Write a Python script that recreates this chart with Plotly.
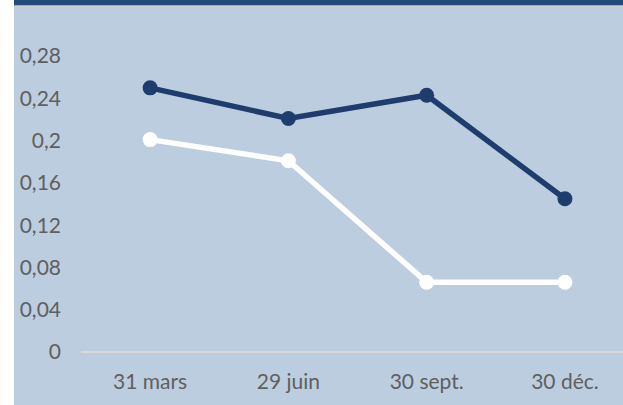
import plotly.graph_objects as go

categories = ["31 mars", "29 juin", "30 sept.", "30 déc."]
serie_foncee = [0.25, 0.221, 0.243, 0.145]
serie_blanche = [0.201, 0.181, 0.066, 0.066]
y_ticks = [0, 0.04, 0.08, 0.12, 0.16, 0.2, 0.24, 0.28]
y_tick_labels = ["0", "0,04", "0,08", "0,12", "0,16", "0,2", "0,24", "0,28"]

W, H = 623, 405
L, R_px, T, B = 81, 623, 34.75, 352
pw, ph = R_px - L, B - T

def px(x):
    return (x - L) / pw

def py(y):
    return (B - y) / ph

fig = go.Figure()
fig.add_trace(go.Scatter(x=categories, y=serie_blanche, mode="lines+markers",
                         line=dict(color="#FFFFFF", width=5.5),
                         marker=dict(color="#FFFFFF", size=15), showlegend=False))
fig.add_trace(go.Scatter(x=categories, y=serie_foncee, mode="lines+markers",
                         line=dict(color="#1E3C6E", width=5.5),
                         marker=dict(color="#1E3C6E", size=15), showlegend=False))

shapes = [
    dict(type="rect", xref="paper", yref="paper", x0=px(-5), x1=px(14), y0=py(410), y1=py(-5),
         fillcolor="#FFFFFF", line=dict(width=0), layer="below"),
    dict(type="rect", xref="paper", yref="paper", x0=px(14), x1=px(630), y0=py(7), y1=py(4),
         fillcolor="#C9CDD2", line=dict(width=0), layer="below"),
    dict(type="rect", xref="paper", yref="paper", x0=px(14), x1=px(630), y0=py(5), y1=py(-5),
         fillcolor="#234A7D", line=dict(width=0), layer="below"),
]

fig.update_layout(
    width=W, height=H,
    margin=dict(l=L, r=W - R_px, t=T, b=H - B, pad=0),
    paper_bgcolor="#BBCDDF", plot_bgcolor="#BBCDDF",
    font=dict(family="Lato, Open Sans, sans-serif", size=21, color="#595959"),
    shapes=shapes,
    xaxis=dict(range=[-0.5, 3.42], showgrid=False, zeroline=False,
               showline=False, ticks="", ticklabelstandoff=15,
               tickfont=dict(size=21, color="#5F5F5F")),
    yaxis=dict(range=[0, 0.3], tickvals=y_ticks, ticktext=y_tick_labels,
               showgrid=False, zeroline=True, zerolinecolor="#D9D9D9", zerolinewidth=2,
               showline=False, ticks="", ticklabelstandoff=19,
               tickfont=dict(size=21, color="#5F5F5F")),
)

fig.write_html("out.html", post_script="document.body.style.margin='0';",
               config={"displayModeBar": False})
